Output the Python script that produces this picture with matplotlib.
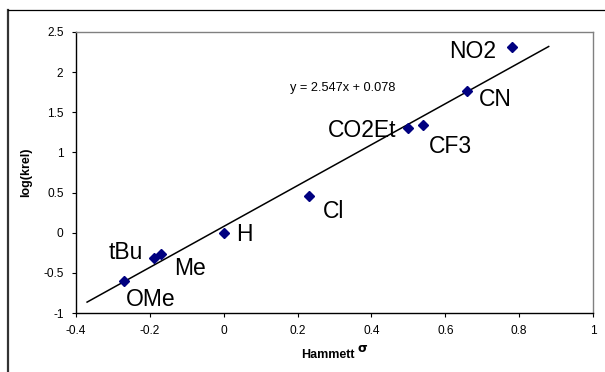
import matplotlib
matplotlib.use('Agg')
import matplotlib.pyplot as plt
from matplotlib.lines import Line2D
import numpy as np

plt.rcParams['font.family'] = ['Liberation Sans', 'DejaVu Sans']
plt.rcParams['axes.unicode_minus'] = False

# ── data (Hammett sigma vs log krel) ──
groups = ['OMe', 'tBu', 'Me', 'H', 'Cl', 'CO2Et', 'CF3', 'CN', 'NO2']
sigma = [-0.27, -0.19, -0.17, 0.0, 0.23, 0.50, 0.54, 0.66, 0.78]
log_krel = [-0.60, -0.31, -0.26, 0.0, 0.46, 1.30, 1.34, 1.76, 2.31]

# trendline from the printed equation
slope = 2.547
intercept = 0.078

x_ticks = [-0.4, -0.2, 0, 0.2, 0.4, 0.6, 0.8, 1]
y_ticks = [-1, -0.5, 0, 0.5, 1, 1.5, 2, 2.5]

# label offsets (pixels from marker) and alignment
label_pos = {
    'NO2':   (-16, -11, 'right'),
    'CN':    (11, -15, 'left'),
    'CO2Et': (-12, -9, 'right'),
    'CF3':   (6, -28, 'left'),
    'Cl':    (14, -22, 'left'),
    'H':     (12, -8, 'left'),
    'Me':    (13, -21, 'left'),
    'tBu':   (-11, -1, 'right'),
    'OMe':   (2, -25, 'left'),
}

W, H = 605, 372
fig = plt.figure(figsize=(W / 100, H / 100), dpi=100)
fig.patch.set_facecolor('white')
ax = fig.add_axes([76 / W, 1 - 313 / H, (593 - 76) / W, (313 - 32) / H])

# outer chart frame (cropped at right/bottom)
fig.add_artist(Line2D([8 / W, 8 / W], [0, 1 - 10 / H], transform=fig.transFigure,
                      color='#333333', lw=1.6))
fig.add_artist(Line2D([8 / W, 1], [1 - 10 / H, 1 - 10 / H], transform=fig.transFigure,
                      color='black', lw=0.9))

# trendline, extended 0.1 beyond the data
xl = np.array([min(sigma) - 0.1, max(sigma) + 0.1])
ax.plot(xl, slope * xl + intercept, color='black', lw=1.1, zorder=2)

ax.plot(sigma, log_krel, linestyle='none', marker='D', markersize=4.6,
        color='#000080', markeredgecolor='#000080', zorder=3)

for g, sx, sy in zip(groups, sigma, log_krel):
    dx, dy, ha = label_pos[g]
    ax.annotate(g, (sx, sy), xytext=(dx, dy), textcoords='offset pixels',
                ha=ha, va='baseline', fontsize=16.5, color='black')

ax.text(0.18, 1.80, 'y = 2.547x + 0.078', fontsize=9.2, ha='left', va='center')

ax.set_xlim(-0.4, 1)
ax.set_ylim(-1, 2.5)
ax.set_xticks(x_ticks)
ax.set_yticks(y_ticks)
ax.set_xticklabels(['%g' % v for v in x_ticks])
ax.set_yticklabels(['%g' % v for v in y_ticks])
ax.tick_params(direction='out', length=3, width=0.8, labelsize=8.6, pad=6)

for s in ['left', 'bottom']:
    ax.spines[s].set_color('black')
    ax.spines[s].set_linewidth(1.0)
for s in ['top', 'right']:
    ax.spines[s].set_color('#808080')
    ax.spines[s].set_linewidth(1.0)

# x label: "Hammett" plus a raised sigma (Symbol-font look)
fig.text(328 / W, 1 - 355 / H, 'Hammett', fontsize=9, fontweight='bold',
         ha='center', va='center')
fig.text(358 / W, 1 - 349 / H, 'σ', fontsize=9, fontweight='bold',
         ha='left', va='center', family=['DejaVu Sans'])
ax.set_ylabel('log(krel)', fontsize=9, fontweight='bold')
ax.yaxis.set_label_coords((32 - 76) / 517, 0.5)

fig.savefig('out.png', dpi=100, facecolor='white')
